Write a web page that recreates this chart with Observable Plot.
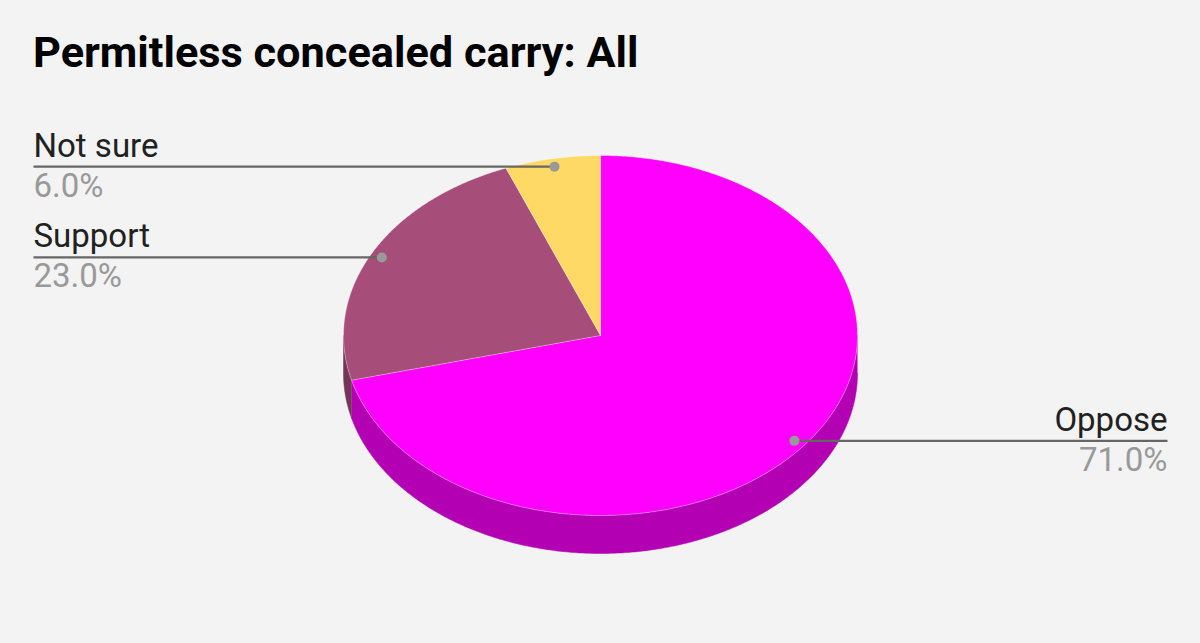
<!DOCTYPE html>
<html>
<head>
<meta charset="utf-8">
<script src="https://cdn.jsdelivr.net/npm/d3@7"></script>
<script src="https://cdn.jsdelivr.net/npm/@observablehq/plot@0.6"></script>
<style>
  html, body { margin: 0; padding: 0; background: #f3f3f3; }
  #wrap { position: relative; width: 1200px; height: 643px; background: #f3f3f3; overflow: hidden; }
  #title { position: absolute; left: 33px; top: 31px; margin: 0; font-family: Roboto, sans-serif; font-weight: 700; font-size: 43.3px; line-height: 43px; color: #000; white-space: nowrap; }
  #chart { position: absolute; left: 0; top: 100px; }
</style>
</head>
<body>
<div id="wrap">
  <div id="title">Permitless concealed carry: All</div>
  <div id="chart"></div>
</div>
<script>
// ---- data ----
const categories = ["Oppose", "Support", "Not sure"];
const values = [71.0, 23.0, 6.0];
const colors = ["#ff00ff", "#a64d79", "#ffd966"];

// ---- layout ----
const W = 1200, H = 543;
const CX = 600, CY = 235, RX = 257, RY = 180, DEPTH = 38;
const DOT_R = 0.955, LEFT_X = 33, RIGHT_X = 1167;

const total = d3.sum(values);
let acc = 0;
const slices = categories.map((c, i) => {
  const a0 = acc / total * 360;
  acc += values[i];
  const a1 = acc / total * 360;
  return {c, v: values[i], color: colors[i], side: d3.color(colors[i]).darker(1).formatHex(), a0, a1};
});
const pt = (deg, r = 1, dz = 0) => {
  const t = deg * Math.PI / 180;
  return {x: CX + RX * r * Math.sin(t), y: CY - RY * r * Math.cos(t) + dz};
};
const arc = (a0, a1, dz = 0) => {
  const n = Math.max(2, Math.ceil((a1 - a0) / 0.5));
  return d3.range(n + 1).map(k => pt(a0 + (a1 - a0) * k / n, 1, dz));
};

// side walls (visible front half: 90..270 deg clockwise from top)
const sidePts = [];
slices.forEach(s => {
  const lo = Math.max(s.a0, 90), hi = Math.min(s.a1, 270);
  if (hi > lo) {
    const top = arc(lo, hi, 0);
    const bot = arc(lo, hi, DEPTH).reverse();
    [...top, ...bot].forEach(p => sidePts.push({key: s.c, fill: s.side, ...p}));
  }
});
// top faces
const topPts = [];
slices.forEach(s => {
  [{x: CX, y: CY}, ...arc(s.a0, s.a1)].forEach(p => topPts.push({key: s.c, fill: s.color, ...p}));
});
// labels
const labels = slices.map(s => {
  const d = pt((s.a0 + s.a1) / 2, DOT_R);
  const left = d.x < CX;
  return {c: s.c, pct: s.v.toFixed(1) + "%", dx: d.x, dy: d.y, lx: left ? LEFT_X : RIGHT_X, left};
});
const leftL = labels.filter(d => d.left), rightL = labels.filter(d => !d.left);

const textMarks = (arr, anchor) => [
  Plot.text(arr, {x: "lx", y: "dy", text: "c", dy: -10, lineAnchor: "bottom", textAnchor: anchor, fontSize: 33, fill: "#212121"}),
  Plot.text(arr, {x: "lx", y: "dy", text: "pct", dy: 30, lineAnchor: "bottom", textAnchor: anchor, fontSize: 33, fill: "#999999"})
];

const chart = Plot.plot({
  width: W, height: H, margin: 0,
  x: {domain: [0, W], range: [0, W], axis: null},
  y: {domain: [0, H], range: [0, H], axis: null},
  color: {type: "identity"},
  style: {background: "transparent", fontFamily: "Roboto, sans-serif", overflow: "visible"},
  marks: [
    Plot.line(sidePts, {x: "x", y: "y", z: "key", fill: "fill", stroke: "fill", strokeWidth: 0.5, curve: "linear"}),
    Plot.line(topPts, {x: "x", y: "y", z: "key", fill: "fill", stroke: "#ffffff", strokeWidth: 0.7, strokeOpacity: 0.5, curve: "linear"}),
    Plot.link(labels, {x1: "dx", y1: "dy", x2: "lx", y2: "dy", stroke: "#666666", strokeWidth: 2.2}),
    Plot.dot(labels, {x: "dx", y: "dy", r: 5, fill: "#999999"}),
    ...textMarks(leftL, "start"),
    ...textMarks(rightL, "end")
  ]
});
document.getElementById("chart").appendChild(chart);
</script>
</body>
</html>
